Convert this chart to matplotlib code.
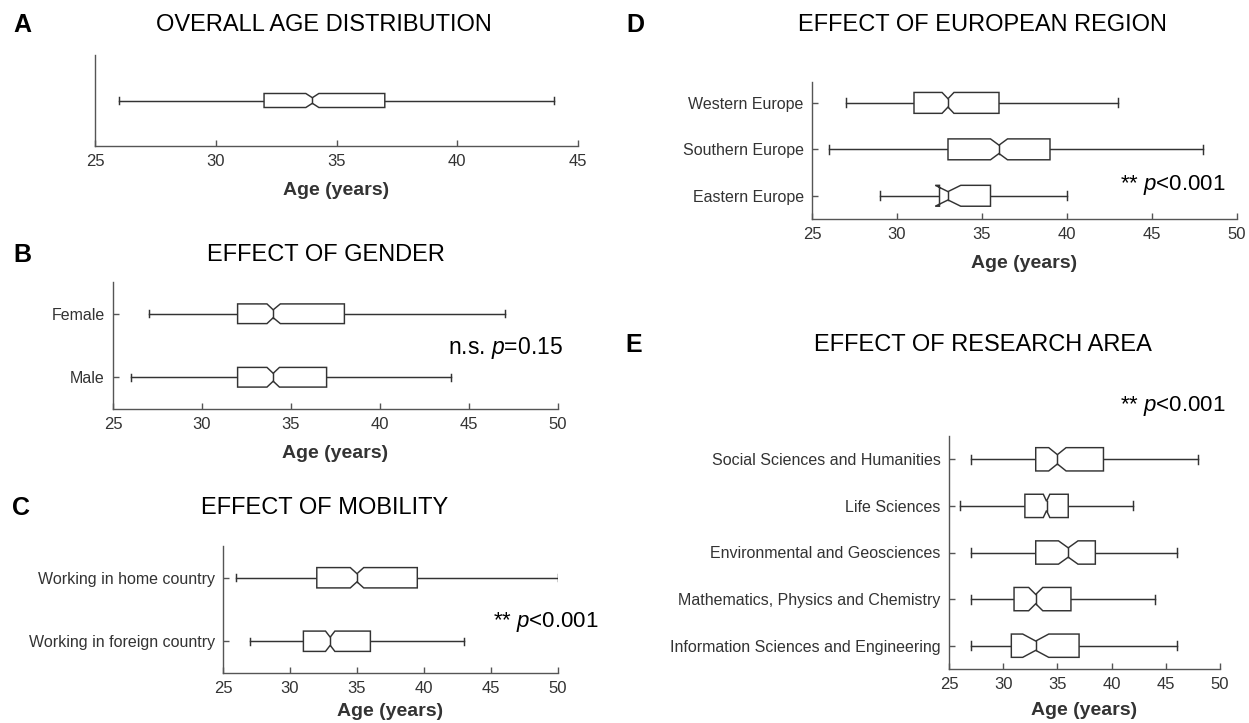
import matplotlib
matplotlib.use("Agg")
import matplotlib.pyplot as plt
from matplotlib.patches import Polygon

plt.rcParams['font.family'] = ['Liberation Sans', 'DejaVu Sans']
plt.rcParams['mathtext.fontset'] = 'custom'
plt.rcParams['mathtext.rm'] = 'Liberation Sans'
plt.rcParams['mathtext.it'] = 'Liberation Sans:italic'

# ---- data: box statistics (whisker low, Q1, median, Q3, whisker high, notch bounds)
# A: overall
overall_labels = ['']
overall_low = [26]
overall_q1 = [32]
overall_med = [34]
overall_q3 = [37]
overall_high = [44]
overall_nlo = [33.73]
overall_nhi = [34.27]

# B: gender (listed bottom to top)
gender_labels = ['Male', 'Female']
gender_low = [26, 27]
gender_q1 = [32, 32]
gender_med = [34, 34]
gender_q3 = [37, 38]
gender_high = [44, 47]
gender_nlo = [33.65, 33.65]
gender_nhi = [34.35, 34.4]

# C: mobility
mobility_labels = ['Working in foreign country', 'Working in home country']
mobility_low = [27, 26]
mobility_q1 = [31, 32]
mobility_med = [33, 35]
mobility_q3 = [36, 39.5]
mobility_high = [43, 50]
mobility_nlo = [32.65, 34.5]
mobility_nhi = [33.35, 35.5]

# D: European region
region_labels = ['Eastern Europe', 'Southern Europe', 'Western Europe']
region_low = [29, 26, 27]
region_q1 = [32.5, 33, 31]
region_med = [33, 36, 33]
region_q3 = [35.5, 39, 36]
region_high = [40, 48, 43]
region_nlo = [32.25, 35.5, 32.65]
region_nhi = [33.75, 36.5, 33.35]

# E: research area
area_labels = ['Information Sciences and Engineering',
               'Mathematics, Physics and Chemistry',
               'Environmental and Geosciences',
               'Life Sciences',
               'Social Sciences and Humanities']
area_low = [27, 27, 27, 26, 27]
area_q1 = [30.75, 31, 33, 32, 33]
area_med = [33, 33, 36, 34, 35]
area_q3 = [37, 36.25, 38.5, 36, 39.25]
area_high = [46, 44, 46, 42, 48]
area_nlo = [31.8, 32.35, 35.1, 33.7, 34.2]
area_nhi = [34.2, 33.65, 36.9, 34.3, 35.8]

# ---- figure
W, H = 1249, 723
fig = plt.figure(figsize=(W / 100, H / 100), dpi=100)

LINE = '#333333'
SPINE = '#555555'
TXT = '#333333'


def fx(x):
    return x / W


def fy(y):
    return 1 - y / H


def make_axes(l, t, r, b):
    return fig.add_axes([fx(l), fy(b), (r - l) / W, (b - t) / H])


def notched_boxes(ax, low, q1, med, q3, high, nlo, nhi, half, cap, waist=0.4):
    for i in range(len(med)):
        y = i + 1
        top, bot = y + half, y - half
        ntop, nbot = y + half * waist, y - half * waist
        verts = [(q1[i], top), (nlo[i], top), (med[i], ntop), (nhi[i], top),
                 (q3[i], top), (q3[i], bot), (nhi[i], bot), (med[i], nbot),
                 (nlo[i], bot), (q1[i], bot)]
        ax.add_patch(Polygon(verts, closed=True, facecolor='white',
                             edgecolor=LINE, lw=1.05, zorder=3))
        ax.plot([med[i], med[i]], [nbot, ntop], color=LINE, lw=1.05, zorder=4)
        ax.plot([low[i], q1[i]], [y, y], color=LINE, lw=1.05, zorder=2)
        ax.plot([q3[i], high[i]], [y, y], color=LINE, lw=1.05, zorder=2)
        for v in (low[i], high[i]):
            ax.plot([v, v], [y - cap, y + cap], color=LINE, lw=1.05, zorder=2)


def style_axes(ax, labels, xmax, ylim, show_y=True, labelpad=9):
    ax.set_xlim(25, xmax)
    ax.set_ylim(*ylim)
    ax.set_xticks(range(25, xmax + 1, 5))
    for s in ('top', 'right'):
        ax.spines[s].set_visible(False)
    for s in ('left', 'bottom'):
        ax.spines[s].set_color(SPINE)
        ax.spines[s].set_linewidth(1.0)
    ax.tick_params(axis='x', direction='in', length=4, width=1.0, color=SPINE,
                   labelsize=12, labelcolor=TXT, pad=6)
    if show_y:
        ax.set_yticks(range(1, len(labels) + 1))
        ax.set_yticklabels(labels)
        ax.tick_params(axis='y', direction='in', length=4, width=1.0, color=SPINE,
                       labelsize=11.5, labelcolor=TXT, pad=6)
    else:
        ax.set_yticks([])
    ax.set_xlabel('Age (years)', fontsize=14, fontweight='bold', color=TXT, labelpad=labelpad)


# A
axA = make_axes(95, 55, 578, 146)
notched_boxes(axA, overall_low, overall_q1, overall_med, overall_q3, overall_high,
              overall_nlo, overall_nhi, half=0.077, cap=0.038)
style_axes(axA, overall_labels, 45, (0.5, 1.5), show_y=False)

# B
axB = make_axes(113, 282, 558, 409)
notched_boxes(axB, gender_low, gender_q1, gender_med, gender_q3, gender_high,
              gender_nlo, gender_nhi, half=0.155, cap=0.055)
style_axes(axB, gender_labels, 50, (0.5, 2.5))

# C
axC = make_axes(223, 546, 558, 673)
notched_boxes(axC, mobility_low, mobility_q1, mobility_med, mobility_q3, mobility_high,
              mobility_nlo, mobility_nhi, half=0.16, cap=0.055)
style_axes(axC, mobility_labels, 50, (0.5, 2.5), labelpad=5)

# D
axD = make_axes(812, 82, 1237, 219)
notched_boxes(axD, region_low, region_q1, region_med, region_q3, region_high,
              region_nlo, region_nhi, half=0.225, cap=0.095)
style_axes(axD, region_labels, 50, (0.5, 3.45))

# E
axE = make_axes(949, 436, 1220, 669)
notched_boxes(axE, area_low, area_q1, area_med, area_q3, area_high,
              area_nlo, area_nhi, half=0.25, cap=0.095)
style_axes(axE, area_labels, 50, (0.5, 5.5), labelpad=7)

# panel letters and titles
panel_letters = [('A', 22, 25.5), ('B', 22, 255), ('C', 21, 508), ('D', 635, 25.5), ('E', 634, 345)]
for letter, x, y in panel_letters:
    fig.text(fx(x), fy(y), letter, fontsize=18, fontweight='bold', color='black',
             ha='center', va='center')

titles = [('OVERALL AGE DISTRIBUTION', 324, 25), ('EFFECT OF GENDER', 326, 255),
          ('EFFECT OF MOBILITY', 325, 508), ('EFFECT OF EUROPEAN REGION', 982, 25),
          ('EFFECT OF RESEARCH AREA', 983, 345)]
for text, x, y in titles:
    fig.text(fx(x), fy(y), text, fontsize=17, color='black', ha='center', va='center')

# significance annotations
fig.text(fx(448), fy(348), 'n.s. $p$=0.15', fontsize=16.5, color='black', ha='left', va='center')
fig.text(fx(599), fy(622), '** $p$<0.001', fontsize=16, color='black', ha='right', va='center')
fig.text(fx(1226), fy(185), '** $p$<0.001', fontsize=16, color='black', ha='right', va='center')
fig.text(fx(1226), fy(406), '** $p$<0.001', fontsize=16, color='black', ha='right', va='center')

fig.savefig('out.png', dpi=100, facecolor='white')
